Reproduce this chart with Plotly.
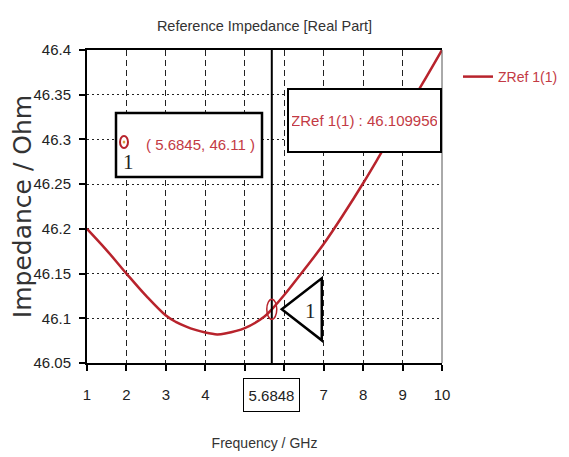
import plotly.graph_objects as go

# ---- data ----
freq_ghz = [1, 1.5, 2, 2.5, 3, 3.25, 3.5, 3.75, 4, 4.3, 4.5, 5, 5.5, 5.6845, 6, 6.5, 7, 7.5, 8, 8.5, 9, 9.5, 10]
zref_ohm = [46.2, 46.176, 46.15, 46.125, 46.103, 46.096, 46.091, 46.087, 46.084, 46.082, 46.083, 46.089, 46.102,
            46.11, 46.126, 46.154, 46.183, 46.216, 46.251, 46.288, 46.325, 46.362, 46.4]
x_tick_vals = [1, 2, 3, 4, 5, 6, 7, 8, 9, 10]
x_tick_text = ["1", "2", "3", "4", "", "", "7", "8", "9", "10"]
y_tick_vals = [46.05, 46.1, 46.15, 46.2, 46.25, 46.3, 46.35, 46.4]
y_tick_text = ["46.05", "46.1", "46.15", "46.2", "46.25", "46.3", "46.35", "46.4"]
series_name = "ZRef 1(1)"
marker_x = 5.6845
marker_y = 46.11
marker_value = 46.109956
axis_marker_x = 5.6848

SANS = "Liberation Sans, Arial, sans-serif"
RED = "#b8232c"
TXT_RED = "#c33a44"

# the page body has an 8px margin, so the figure is made 8px smaller and margins shifted
OFF = 8
FIG_W, FIG_H = 569 - OFF, 457 - OFF
PL, PR, PT, PB = 87, 442, 50, 363          # plot area in page pixels
PW, PH = PR - PL, PB - PT


def px_x(p):
    return (p - PL) / PW


def px_y(p):
    return (PB - p) / PH


fig = go.Figure()
fig.add_trace(go.Scatter(
    x=freq_ghz, y=zref_ohm, mode="lines", name=series_name,
    line=dict(color=RED, width=2.5, shape="spline", smoothing=1.0),
))

fig.update_layout(
    width=FIG_W, height=FIG_H,
    margin=dict(l=PL - OFF, r=FIG_W + OFF - PR, t=PT - OFF, b=FIG_H + OFF - PB, autoexpand=False),
    paper_bgcolor="white", plot_bgcolor="white",
    title=dict(text="Reference Impedance [Real Part]", x=0.5, xref="paper",
               y=1 - (26 - OFF) / FIG_H, yref="container", yanchor="middle", xanchor="center",
               font=dict(family=SANS, size=14.5, color="#333")),
    showlegend=True,
    legend=dict(x=px_x(458), y=px_y(77), xanchor="left", yanchor="middle",
                font=dict(family=SANS, size=14, color=TXT_RED),
                bgcolor="rgba(0,0,0,0)", borderwidth=0),
    xaxis=dict(range=[1, 10], tickvals=x_tick_vals, ticktext=x_tick_text, automargin=False,
               showline=True, linecolor="black", linewidth=2, mirror=True,
               ticks="outside", ticklen=6, tickwidth=1.5, tickcolor="black",
               showgrid=True, gridcolor="#222", gridwidth=1.2, griddash="6px,4px",
               zeroline=False, ticklabelstandoff=11,
               tickfont=dict(family=SANS, size=15, color="#222"),
               title=dict(text="Frequency / GHz", standoff=36,
                          font=dict(family=SANS, size=14, color="#333"))),
    yaxis=dict(range=[46.05, 46.4], tickvals=y_tick_vals, ticktext=y_tick_text, automargin=False,
               showline=True, linecolor="black", linewidth=2, mirror=False,
               ticks="outside", ticklen=6, tickwidth=1.5, tickcolor="black",
               showgrid=True, gridcolor="#222", gridwidth=1.2, griddash="2px,3px",
               zeroline=False, ticklabelstandoff=5,
               tickfont=dict(family=SANS, size=15, color="#222"),
               title=dict(text="Impedance / Ohm", standoff=4,
                          font=dict(family="DejaVu Sans, sans-serif", size=25, color="#333"))),
)

shapes = []
# right border of the plot frame
shapes.append(dict(type="line", xref="paper", yref="paper", x0=1, x1=1, y0=0, y1=1,
                   line=dict(color="#555", width=1)))
# vertical marker line
shapes.append(dict(type="line", xref="x", yref="paper", x0=axis_marker_x, x1=axis_marker_x,
                   y0=0, y1=1, line=dict(color="black", width=2)))
# ellipse on the curve at the marker
shapes.append(dict(type="circle", xref="x", yref="y", xsizemode="pixel", ysizemode="pixel",
                   xanchor=marker_x, yanchor=marker_y, x0=-5, x1=5, y0=-10, y1=10,
                   line=dict(color=RED, width=1.5)))
# triangle pointer
shapes.append(dict(type="path", xref="x", yref="y", xsizemode="pixel", ysizemode="pixel",
                   xanchor=marker_x, yanchor=marker_y,
                   path="M 10 0 L 50 31 L 50 -31 Z",
                   fillcolor="white", line=dict(color="black", width=2.5)))
# coordinate box frame
shapes.append(dict(type="rect", xref="paper", yref="paper",
                   x0=px_x(116), x1=px_x(262), y0=px_y(177), y1=px_y(113),
                   fillcolor="white", line=dict(color="black", width=2.5)))
# marker symbol inside the coordinate box (ring with dot)
shapes.append(dict(type="circle", xref="paper", yref="paper", xsizemode="pixel", ysizemode="pixel",
                   xanchor=px_x(124), yanchor=px_y(142), x0=-4, x1=4, y0=-6, y1=6,
                   line=dict(color=RED, width=2)))
shapes.append(dict(type="circle", xref="paper", yref="paper", xsizemode="pixel", ysizemode="pixel",
                   xanchor=px_x(124), yanchor=px_y(142), x0=-1.3, x1=1.3, y0=-1.5, y1=1.5,
                   fillcolor="#d9a040", line=dict(color="#d9a040", width=0)))
fig.update_layout(shapes=shapes)

annotations = []
# coordinate text inside the box
annotations.append(dict(xref="paper", yref="paper", x=px_x(257), y=px_y(144),
                        xanchor="right", yanchor="middle",
                        text=f"( {marker_x:.4f}, {marker_y:.2f} )", showarrow=False,
                        font=dict(family=SANS, size=15, color=TXT_RED)))
# value box
annotations.append(dict(xref="paper", yref="paper", x=px_x(364.5), y=px_y(120.5),
                        xanchor="center", yanchor="middle",
                        text=f"{series_name} : {marker_value:.6f}", showarrow=False,
                        width=145, height=55, align="center", borderpad=3, borderwidth=2,
                        bordercolor="black", bgcolor="white",
                        font=dict(family=SANS, size=15, color=TXT_RED)))
# label "1" under the marker symbol in the box
annotations.append(dict(xref="paper", yref="paper", x=px_x(128), y=px_y(162),
                        xanchor="center", yanchor="middle", text="1", showarrow=False,
                        font=dict(family="Liberation Serif, serif", size=21, color="#222")))
# label "1" inside the triangle
annotations.append(dict(xref="x", yref="y", x=marker_x, y=marker_y, xshift=39, yshift=-2,
                        xanchor="center", yanchor="middle", text="1", showarrow=False,
                        font=dict(family="Liberation Serif, serif", size=21, color="#222")))
# x-axis marker value box
annotations.append(dict(xref="x", yref="paper", x=axis_marker_x, y=px_y(395),
                        xanchor="center", yanchor="middle",
                        text=f"{axis_marker_x:.4f}", showarrow=False,
                        width=51, height=28, borderpad=2, borderwidth=1,
                        bordercolor="black", bgcolor="white",
                        font=dict(family=SANS, size=15, color="#222")))
fig.update_layout(annotations=annotations)

fig.write_html("out.html")
